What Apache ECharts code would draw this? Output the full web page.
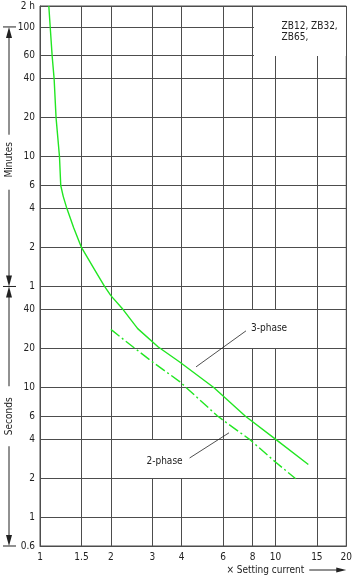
<!DOCTYPE html>
<html>
<head>
<meta charset="utf-8">
<script src="https://cdn.jsdelivr.net/npm/echarts@6/dist/echarts.min.js"></script>
<style>
  html, body { margin: 0; padding: 0; background: #fff; }
  #chart { width: 355px; height: 580px; }
</style>
</head>
<body>
<div id="chart"></div>
<script>
// x: multiple of the setting current, y: tripping time in seconds
const xTicks = [1, 1.5, 2, 3, 4, 6, 8, 10, 15, 20];
const yTicks = [0.6, 1, 2, 4, 6, 10, 20, 40, 60, 120, 240, 360, 600, 1200, 2400, 3600, 6000, 8700];
const yTickLabels = ['0.6', '1', '2', '4', '6', '10', '20', '40', '1', '2', '4', '6', '10', '20', '40', '60', '100', '2 h'];

const threePhaseX = [1.09, 1.105, 1.126, 1.148, 1.17, 1.21, 1.225, 1.255, 1.30, 1.39, 1.5, 1.7, 1.88, 2.0, 2.25, 2.6, 3.18, 3.92, 5.47, 7.46, 10, 13.8];
const threePhaseY = [8700, 6000, 3600, 2400, 1200, 600, 360, 297, 240, 170, 120, 81.5, 60, 51, 40, 28.4, 20.5, 15.7, 10, 6, 4, 2.55];

const twoPhaseX = [2.0, 2.53, 2.98, 3.92, 5.66, 6.24, 7.74, 10, 12.2];
const twoPhaseY = [28, 20, 15.9, 11.1, 6.05, 5.3, 4, 2.66, 1.98];

const font = "'Liberation Sans Narrow', 'DejaVu Sans Condensed', 'Roboto Condensed', sans-serif";
const gridColor = '#4d4d4d';
const textColor = '#222';
const green = '#22e622';

function zip(xs, ys) {
  return xs.map((x, i) => [x, ys[i]]);
}

function yLabel(v) {
  for (let i = 0; i < yTicks.length; i++) {
    if (Math.abs(Math.log10(v) - Math.log10(yTicks[i])) < 0.005) return yTickLabels[i];
  }
  return '';
}

const chart = echarts.init(document.getElementById('chart'));

const option = {
  animation: false,
  grid: {
    left: 40, right: 5, top: 6, bottom: 34,
    show: true, borderColor: gridColor, borderWidth: 1
  },
  xAxis: {
    type: 'log',
    min: 1,
    max: 20,
    axisLine: { show: true, lineStyle: { color: gridColor, width: 1 } },
    axisTick: { show: false, customValues: xTicks },
    axisLabel: {
      customValues: xTicks,
      formatter: (v) => String(+v.toPrecision(3)),
      margin: 6, fontSize: 10, fontFamily: font, color: textColor
    },
    splitLine: { show: true, lineStyle: { color: gridColor, width: 1 } }
  },
  yAxis: {
    type: 'log',
    min: 0.6,
    max: 8700,
    axisLine: { show: true, lineStyle: { color: gridColor, width: 1 } },
    axisTick: { show: false, customValues: yTicks },
    axisLabel: {
      customValues: yTicks,
      formatter: yLabel,
      margin: 5, fontSize: 10, fontFamily: font, color: textColor
    },
    splitLine: { show: true, lineStyle: { color: gridColor, width: 1 } }
  },
  series: [
    {
      name: '3-phase',
      type: 'line',
      data: zip(threePhaseX, threePhaseY),
      showSymbol: false,
      lineStyle: { color: green, width: 1.4 },
      z: 5
    },
    {
      name: '2-phase',
      type: 'line',
      data: zip(twoPhaseX, twoPhaseY),
      showSymbol: false,
      lineStyle: { color: green, width: 1.4, type: [11, 3, 2, 3] },
      z: 5
    }
  ]
};

chart.setOption(option);

// annotations placed from axis values
const px = (x, y) => chart.convertToPixel({ gridIndex: 0 }, [x, y]);
const txt = (x, y, text, align, extra) => Object.assign({
  type: 'text', x: x, y: y, z: 20,
  style: { text: text, font: '10px ' + font, fill: textColor, align: align, verticalAlign: 'middle', lineHeight: 11 }
}, extra || {});
const line = (x1, y1, x2, y2, w) => ({
  type: 'line', z: 20,
  shape: { x1: x1, y1: y1, x2: x2, y2: y2 },
  style: { stroke: '#222', lineWidth: w || 1 }
});
const head = (x, y, dir) => ({
  type: 'polygon', z: 20,
  shape: { points: dir === 'up' ? [[x, y], [x - 3, y + 11], [x + 3, y + 11]]
    : dir === 'down' ? [[x, y], [x - 3, y - 11], [x + 3, y - 11]]
    : [[x, y], [x - 10, y - 2.5], [x - 10, y + 2.5]] },
  style: { fill: '#222' }
});
const blank = (a, b) => ({
  type: 'rect', z: 10,
  shape: { x: Math.round(a[0]) + 1, y: Math.round(a[1]) + 1,
    width: Math.round(b[0]) - Math.round(a[0]) - 1, height: Math.round(b[1]) - Math.round(a[1]) - 1 },
  style: { fill: '#fff' }
});

const tl = px(8, 8700), br = px(20, 3600);
const p3a = px(4.6, 14.4), p3b = px(7.5, 27.3);
const p2a = px(4.32, 2.86), p2b = px(6.35, 4.47);
const yMin = px(1, 6000)[1], yMid = px(1, 60)[1], yBot = px(1, 0.6)[1];
const xRight = px(20, 1)[0];
const ax = 9;

const elements = [
  blank(tl, br),
  txt(tl[0] + 29, (tl[1] + br[1]) / 2 + 1, 'ZB12, ZB32,\nZB65,', 'left'),
  blank(px(7.6, 40), px(11.2, 20)),
  blank(px(2.8, 4), px(4.35, 2)),
  line(p3a[0], p3a[1], p3b[0], p3b[1], 0.8),
  txt(p3b[0] + 5, p3b[1] - 2, '3-phase', 'left'),
  line(p2a[0], p2a[1], p2b[0], p2b[1], 0.8),
  txt(p2a[0] - 7, p2a[1] + 3, '2-phase', 'right'),

  // minutes / seconds arrows on the left
  line(3, yMin, 16, yMin), line(3, yMid, 16, yMid), line(3, yBot, 16, yBot),
  line(ax, yMin + 6, ax, (yMin + yMid) / 2 - 22), line(ax, (yMin + yMid) / 2 + 33, ax, yMid - 6),
  head(ax, yMin, 'up'), head(ax, yMid, 'down'),
  txt(ax, (yMin + yMid) / 2 + 3, 'Minutes', 'center', { rotation: Math.PI / 2 }),
  line(ax, yMid + 6, ax, (yMid + yBot) / 2 - 30), line(ax, (yMid + yBot) / 2 + 30, ax, yBot - 6),
  head(ax, yMid, 'up'), head(ax, yBot, 'down'),
  txt(ax, (yMid + yBot) / 2, 'Seconds', 'center', { rotation: Math.PI / 2 }),

  // x axis caption
  txt(xRight - 42, yBot + 24, '\u00d7 Setting current', 'right'),
  line(xRight - 37, yBot + 24, xRight - 8, yBot + 24),
  head(xRight, yBot + 24, 'right')
];

chart.setOption({ graphic: { elements: elements } });
</script>
</body>
</html>
